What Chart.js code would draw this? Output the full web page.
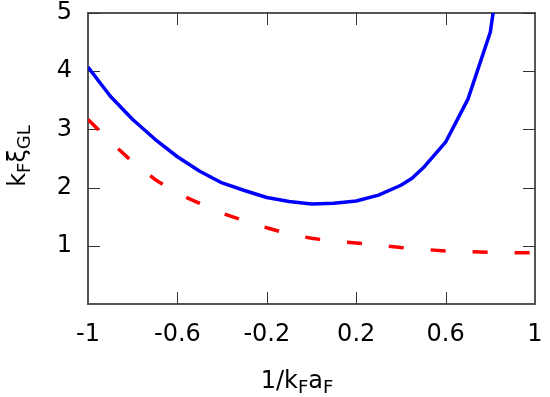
<!DOCTYPE html>
<html><head><meta charset="utf-8">
<script src="https://cdn.jsdelivr.net/npm/chart.js@4"></script>
<style>html,body{margin:0;padding:0;background:#fff;}</style>
</head><body>
<canvas id="c" width="550" height="397"></canvas>
<script>
// ---- data ----
const xBlue = [-1, -0.9, -0.8, -0.7, -0.6, -0.5, -0.4, -0.3, -0.2, -0.1, 0, 0.1, 0.2, 0.3, 0.4, 0.45, 0.5, 0.6, 0.7, 0.8, 0.85];
const yBlue = [4.07, 3.57, 3.17, 2.83, 2.53, 2.28, 2.08, 1.95, 1.83, 1.76, 1.72, 1.73, 1.77, 1.87, 2.04, 2.16, 2.34, 2.78, 3.52, 4.67, 6.0];
const xRed = [-1, -0.9, -0.8, -0.7, -0.6, -0.5, -0.4, -0.3, -0.2, -0.1, 0, 0.1, 0.2, 0.3, 0.4, 0.5, 0.6, 0.7, 0.8, 0.9, 1];
const yRed = [3.17, 2.79, 2.44, 2.14, 1.90, 1.73, 1.56, 1.43, 1.31, 1.20, 1.13, 1.08, 1.05, 1.01, 0.97, 0.94, 0.91, 0.90, 0.89, 0.88, 0.88];
const xTicks = [-1, -0.6, -0.2, 0.2, 0.6, 1];
const yTicks = [1, 2, 3, 4, 5];
const xTitle = [{t:'1/k'}, {t:'F', sub:true}, {t:'a'}, {t:'F', sub:true}];
const yTitle = [{t:'k'}, {t:'F', sub:true}, {t:'ξ'}, {t:'GL', sub:true}];

const FONT = '"DejaVu Sans", sans-serif';

function drawRich(ctx, parts, cx, baseline, rotate) {
  ctx.save();
  const mainF = '24px ' + FONT, subF = '18px ' + FONT;
  let total = 0;
  parts.forEach(p => { ctx.font = p.sub ? subF : mainF; p.w = ctx.measureText(p.t).width; total += p.w; });
  if (rotate) {
    ctx.translate(baseline, cx);
    ctx.rotate(-Math.PI / 2);
    cx = 0; baseline = 0;
  }
  let u = cx - total / 2;
  ctx.fillStyle = '#000';
  ctx.textBaseline = 'alphabetic';
  ctx.textAlign = 'left';
  parts.forEach(p => {
    ctx.font = p.sub ? subF : mainF;
    ctx.fillText(p.t, u, baseline + (p.sub ? 5 : 0));
    u += p.w;
  });
  ctx.restore();
}

const framePlugin = {
  id: 'frame',
  beforeDatasetsDraw(chart) {
    const {ctx, chartArea: a, scales: {x, y}} = chart;
    ctx.save();
    ctx.strokeStyle = '#555';
    ctx.lineWidth = 2;
    ctx.strokeRect(a.left, a.top, a.right - a.left, a.bottom - a.top);
    ctx.lineWidth = 1;
    ctx.strokeStyle = '#333';
    const L = 12;
    ctx.beginPath();
    xTicks.forEach((v, i) => {
      if (i === 0 || i === xTicks.length - 1) return;
      const p = Math.round(x.getPixelForValue(v)) + 0.5;
      ctx.moveTo(p, a.bottom); ctx.lineTo(p, a.bottom - L);
      ctx.moveTo(p, a.top); ctx.lineTo(p, a.top + L);
    });
    yTicks.forEach(v => {
      const p = Math.round(y.getPixelForValue(v)) + 0.5;
      ctx.moveTo(a.left, p); ctx.lineTo(a.left + L, p);
      ctx.moveTo(a.right, p); ctx.lineTo(a.right - L, p);
    });
    ctx.stroke();
    ctx.restore();
  },
  afterDraw(chart) {
    const ctx = chart.ctx;
    drawRich(ctx, xTitle, 297, 388, false);
    drawRich(ctx, yTitle, 156, 25, true);
  }
};

const toPts = (xs, ys) => xs.map((v, i) => ({x: v, y: ys[i]}));
const noPad = s => { s.paddingTop = 0; s.paddingBottom = 0; s.paddingLeft = 0; s.paddingRight = 0; };

new Chart(document.getElementById('c'), {
  type: 'line',
  data: {
    datasets: [
      {data: toPts(xBlue, yBlue), borderColor: '#0000ff', borderWidth: 3.5, pointRadius: 0, tension: 0, fill: false, clip: 0, borderJoinStyle: 'round'},
      {data: toPts(xRed, yRed), borderColor: '#ff0000', borderWidth: 3.5, borderDash: [15, 27], pointRadius: 0, tension: 0, fill: false, clip: 0}
    ]
  },
  options: {
    responsive: false,
    animation: false,
    devicePixelRatio: 1,
    layout: {padding: {left: 0, right: 15, top: 13, bottom: 0}},
    plugins: {legend: {display: false}, tooltip: {enabled: false}},
    scales: {
      x: {
        type: 'linear', min: -1, max: 1,
        afterBuildTicks: s => { s.ticks = xTicks.map(v => ({value: v})); },
        afterFit: s => { s.height = 93; noPad(s); },
        grid: {display: false, drawTicks: false},
        border: {display: false},
        ticks: {autoSkip: false, maxRotation: 0, padding: 16, color: '#000', font: {family: FONT, size: 24}, callback: v => String(v)}
      },
      y: {
        type: 'linear', min: 0, max: 5,
        afterBuildTicks: s => { s.ticks = yTicks.map(v => ({value: v})); },
        afterFit: s => { s.width = 88; noPad(s); },
        grid: {display: false, drawTicks: false},
        border: {display: false},
        ticks: {autoSkip: false, padding: 16, color: '#000', font: {family: FONT, size: 24}, callback: v => String(v)}
      }
    }
  },
  plugins: [framePlugin]
});
</script>
</body></html>
